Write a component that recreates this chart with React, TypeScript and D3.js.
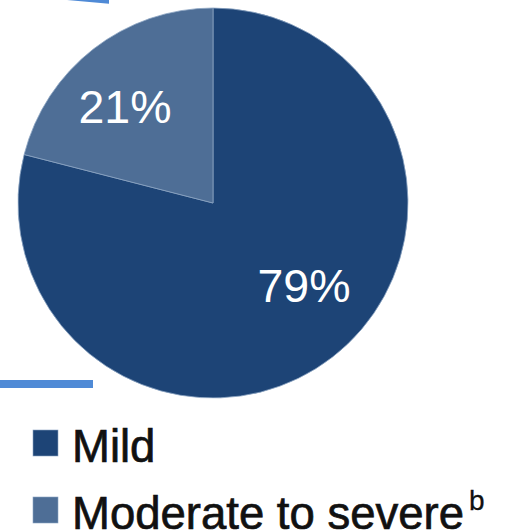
import React from "react";
import * as d3 from "d3";

// Severity split
const categories = ["Mild", "Moderate to severe"];
const values = [79, 21];
const valueLabels = ["79%", "21%"];
const legendNotes = ["", "b"];

const W = 512;
const H = 530;
const CX = 213;
const CY = 203;
const R = 195;

const colors = d3.scaleOrdinal<string, string>().domain(categories).range(["#1d4476", "#4e6e96"]);

// label offsets from pie centre (placed by hand inside each slice)
const labelOffset: Record<string, [number, number]> = {
  Mild: [91, 99],
  "Moderate to severe": [-88, -80],
};

export default function App() {
  const pie = d3.pie<number>().sort(null).value((d) => d);
  const arcs = pie(values);
  const arc = d3.arc<d3.PieArcDatum<number>>().innerRadius(0).outerRadius(R);

  return (
    <svg
      width={W}
      height={H}
      style={{ position: "absolute", left: 0, top: 0, background: "#fff" }}
      fontFamily="'Liberation Sans', Arial, sans-serif"
    >
      {/* accent rules */}
      <polygon points="67,0 109,0 109,3.8" fill="#4f8ad6" />
      <rect x={0} y={380} width={93} height={8} fill="#4f8ad6" />

      <g transform={`translate(${CX},${CY})`}>
        {arcs.map((a, i) => (
          <path key={i} d={arc(a) || ""} fill={colors(categories[i])} stroke="#8aa3c2" strokeWidth={0.8} />
        ))}
        {arcs.map((a, i) => {
          const [dx, dy] = labelOffset[categories[i]];
          return (
            <text key={"l" + i} x={dx} y={dy} textAnchor="middle" fill="#fff" fontSize={46.5}>
              {valueLabels[i]}
            </text>
          );
        })}
      </g>

      {categories.map((c, i) => {
        const y = 430 + i * 67;
        return (
          <g key={c}>
            <rect x={33} y={y} width={25} height={26} fill={colors(c)} stroke="#8aa3c2" strokeWidth={0.6} />
            <text x={72} y={y + 32} fontSize={45.5} fill="#111" stroke="#111" strokeWidth={0.7}>
              {c}
              {legendNotes[i] && (
                <tspan dx={5} dy={-19} fontSize={28} strokeWidth={0.3}>
                  {legendNotes[i]}
                </tspan>
              )}
            </text>
          </g>
        );
      })}
    </svg>
  );
}
